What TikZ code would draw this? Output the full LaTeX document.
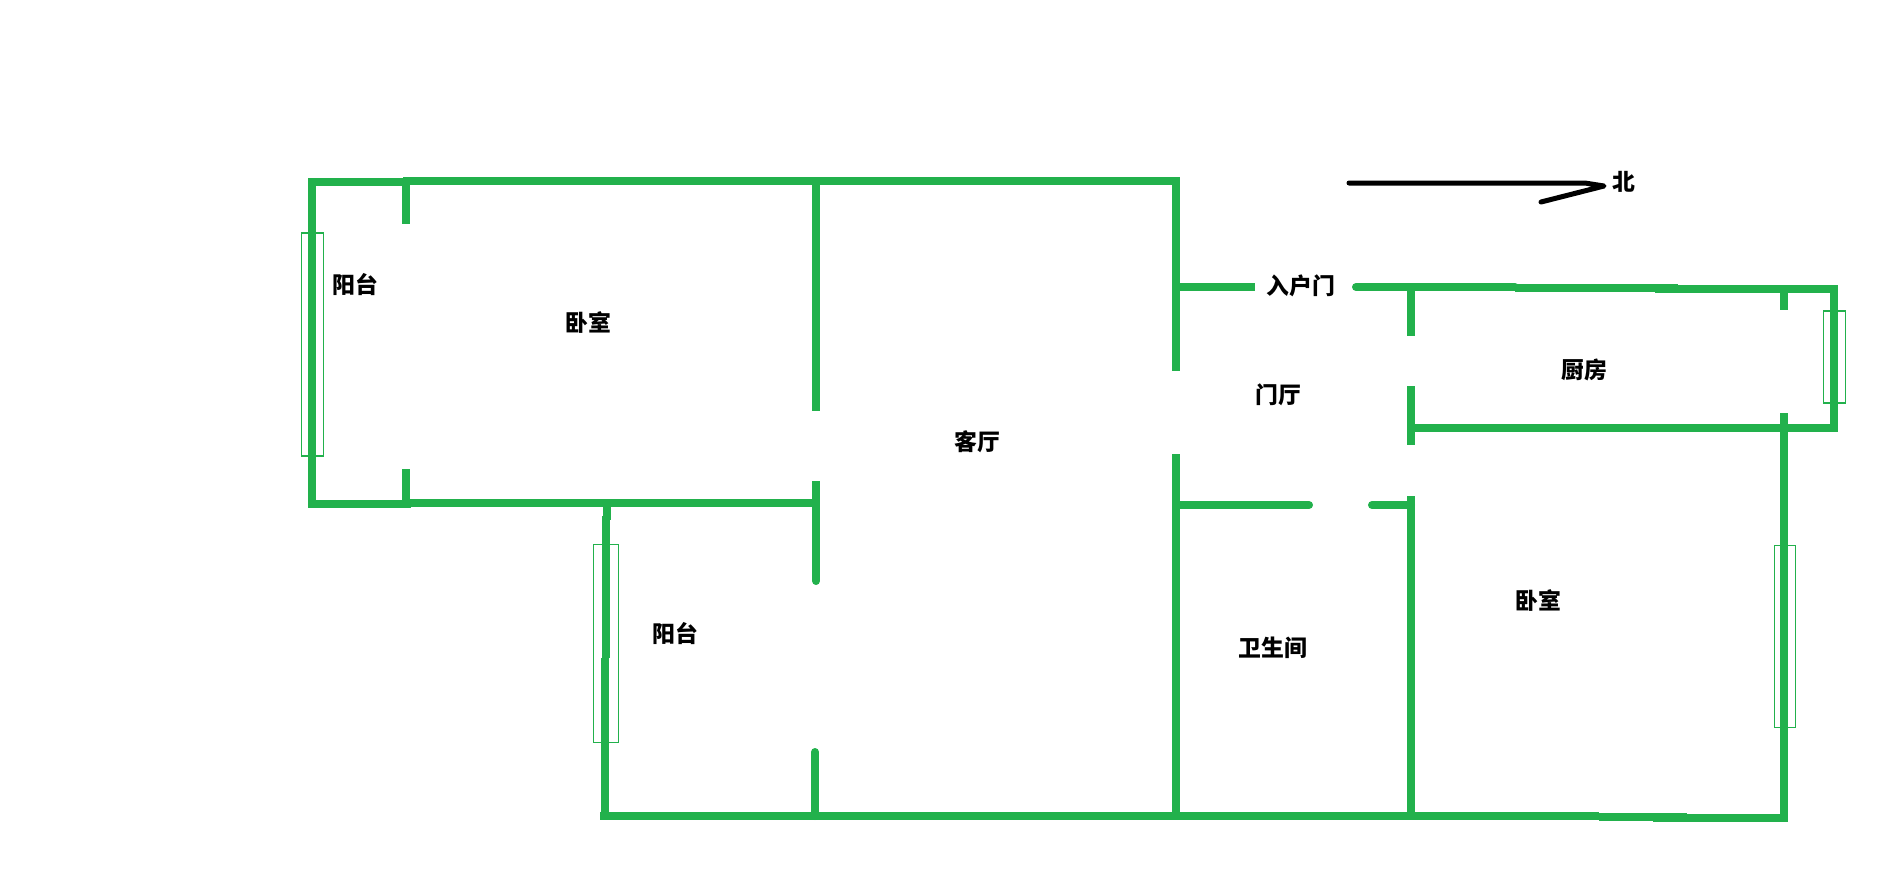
\documentclass[tikz,border=0pt]{standalone}
\usepackage{fontspec}
\setmainfont{Noto Sans CJK SC}
\definecolor{wallgreen}{HTML}{22B14C}
\tikzset{
  wall/.style={draw=wallgreen,line width=0.08cm},
  roundwall/.style={wall,line cap=round},
  window/.style={draw=wallgreen,line width=0.012cm},
  room/.style={font=\fontsize{6.5pt}{7pt}\selectfont\bfseries,text=black},
  pointer/.style={draw=black,line width=0.05cm,line cap=round,line join=round}
}
\begin{document}
\begin{tikzpicture}[x=0.01cm,y=-0.01cm]
\tikzstyle{every node}+=[inner sep=0pt]
\useasboundingbox (0,0) rectangle (1882,893);
\draw [wall] (406,182) -- (312,182) -- (312,504) -- (411,504);
\draw [wall] (403,181) -- (1176,181);
\draw [wall] (406,181) -- (406,224);
\draw [wall] (406,469) -- (406,508);
\draw [wall] (406,503) -- (820,503);
\draw [wall] (816,181) -- (816,411);
\draw [wall] (816,481) -- (816,503);
\draw [roundwall] (816,503) -- (816,581);
\draw [roundwall] (815,752) -- (815,816);
\draw [wall] (607,505) -- (607,520);
\draw [wall] (606,516) -- (606,658);
\draw [wall] (605,658) -- (605,816);
\draw [wall] (600,816) -- (1599,816);
\draw [wall] (1599,817) -- (1687,817);
\draw [wall] (1653,818) -- (1788,818);
\draw [wall] (1176,177) -- (1176,371);
\draw [wall] (1176,454) -- (1176,816);
\draw [wall] (1176,287) -- (1255,287);
\draw [roundwall] (1356,287) -- (1515,287);
\draw [wall] (1515,288) -- (1678,288);
\draw [wall] (1655,289) -- (1834,289) -- (1834,428) -- (1407,428);
\draw [wall] (1411,287) -- (1411,336);
\draw [wall] (1411,386) -- (1411,445);
\draw [wall] (1411,496) -- (1411,816);
\draw [roundwall] (1176,505) -- (1309,505);
\draw [roundwall] (1372,505) -- (1411,505);
\draw [wall] (1784,287) -- (1784,310);
\draw [wall] (1784,413) -- (1784,822);
\draw [window] (301.5,233) rectangle (323.5,456);
\draw [window] (593.5,544.5) rectangle (618.5,742.5);
\draw [window] (1823.5,311) rectangle (1845.5,403);
\draw [window] (1774.5,545.5) rectangle (1795.5,727.5);
\draw [pointer] (1349,183) -- (1585,183) -- (1604,186) -- (1541,202);
\node [room] (balconywest) at (355,285) {阳台};
\node [room] (bedroomwest) at (588,322) {卧室};
\node [room] (livingroom) at (977,442) {客厅};
\node [room] (entrydoor) at (1301,286) {入户门};
\node [room] (hallway) at (1278,395) {门厅};
\node [room] (kitchen) at (1584,370) {厨房};
\node [room] (northmark) at (1624,182) {北};
\node [room] (balconysouth) at (675,634) {阳台};
\node [room] (bathroom) at (1273,648) {卫生间};
\node [room] (bedroomeast) at (1538,600) {卧室};
\end{tikzpicture}
\end{document}
